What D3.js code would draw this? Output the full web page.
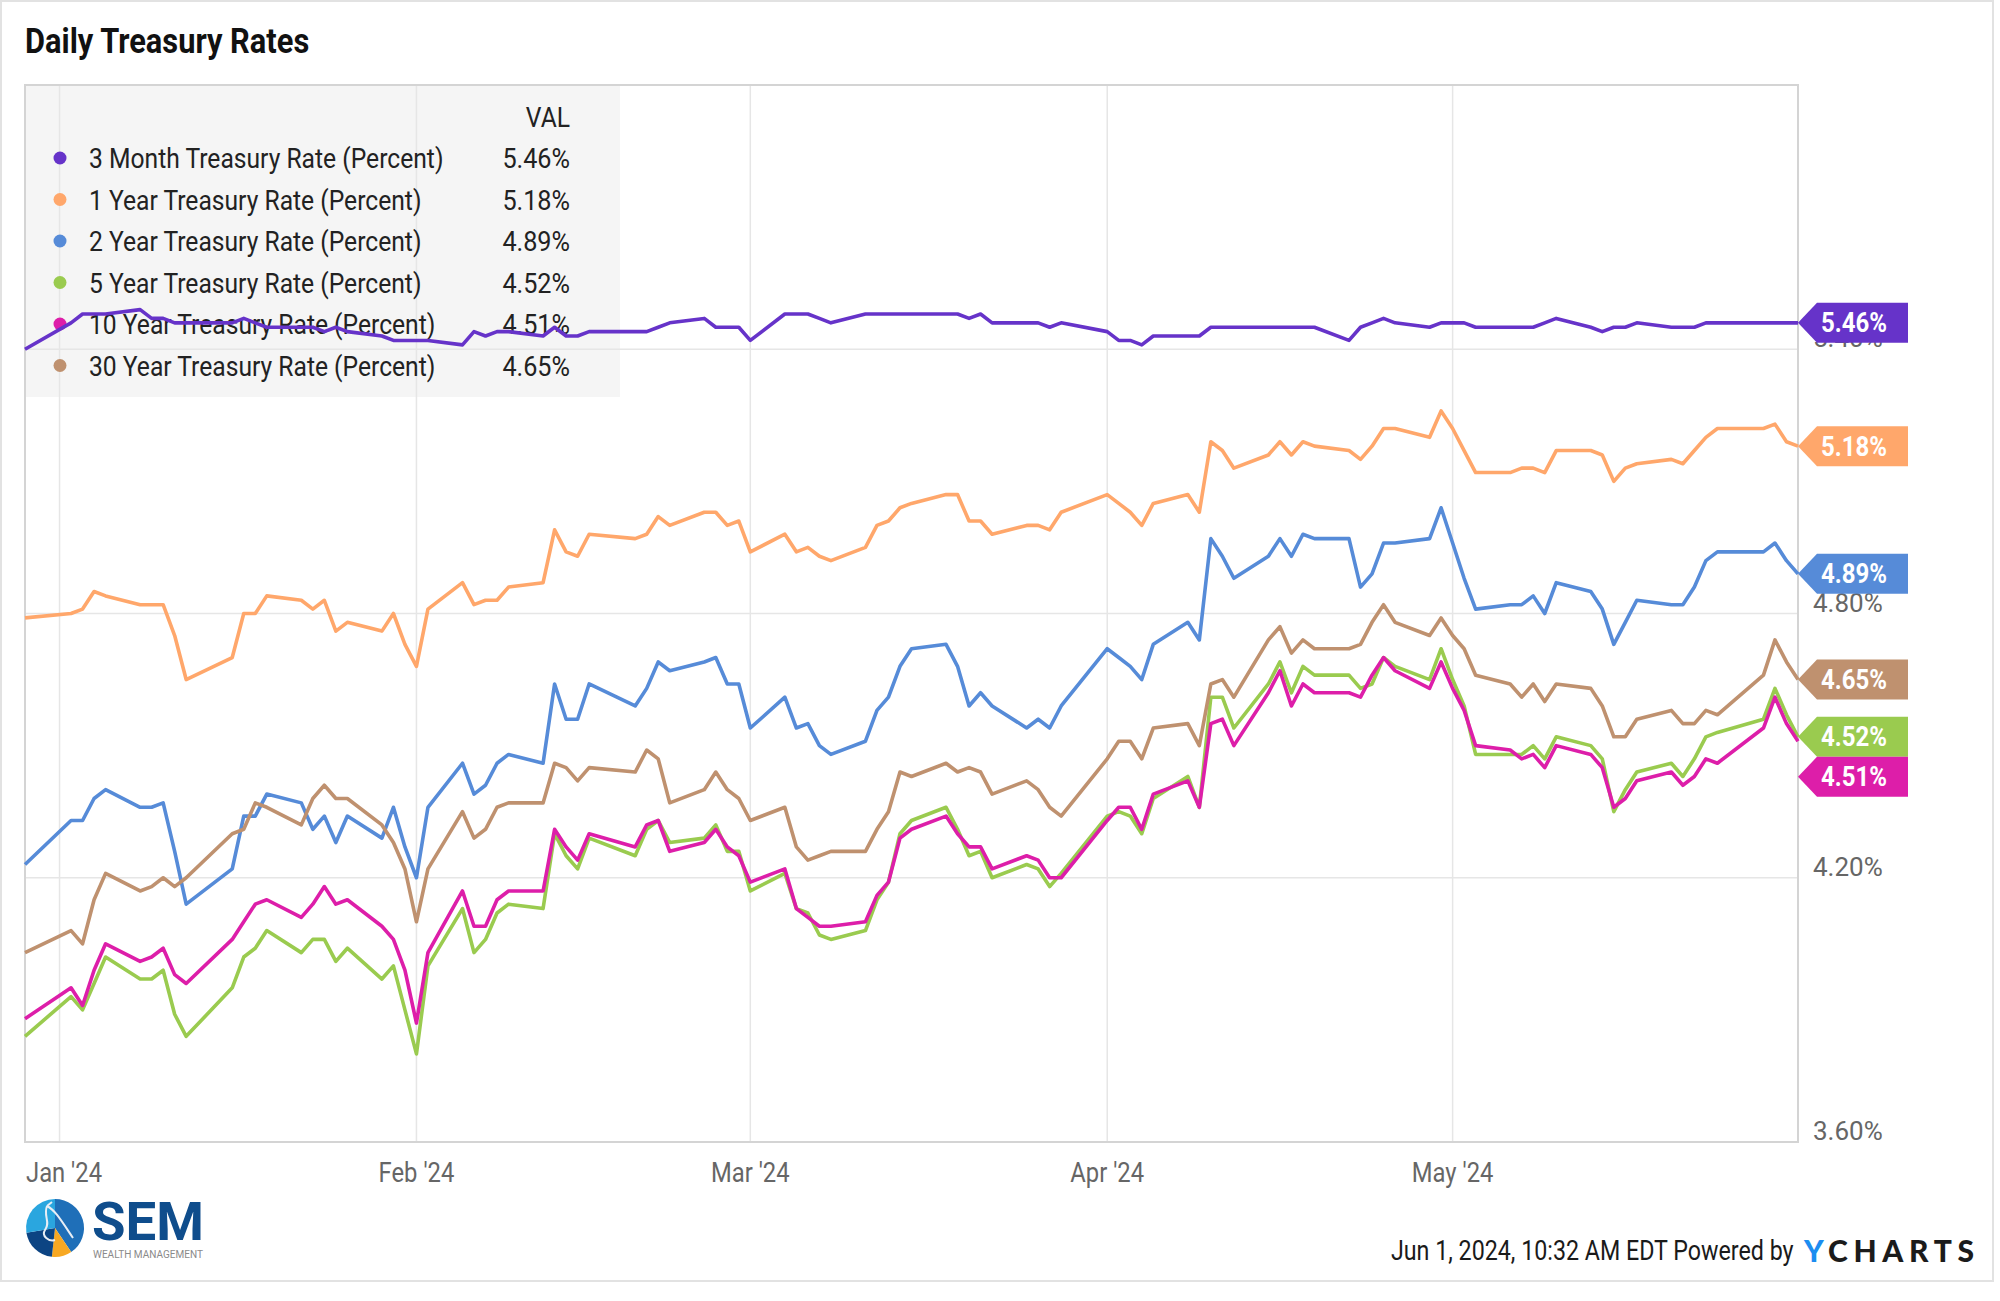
<!DOCTYPE html>
<html>
<head>
<meta charset="utf-8">
<script src="https://cdn.jsdelivr.net/npm/d3@7"></script>
<style>
  body { margin: 0; background: #fff; }
  svg { display: block; font-family: Roboto, "Noto Sans", sans-serif; }
</style>
</head>
<body>
<div id="chart"></div>
<script>
// trading days shown on the chart
const dates = [
  "2023-12-29",
  "2024-01-02","2024-01-03","2024-01-04","2024-01-05","2024-01-08","2024-01-09","2024-01-10","2024-01-11","2024-01-12","2024-01-16","2024-01-17","2024-01-18","2024-01-19","2024-01-22","2024-01-23","2024-01-24","2024-01-25","2024-01-26","2024-01-29","2024-01-30","2024-01-31",
  "2024-02-01","2024-02-02","2024-02-05","2024-02-06","2024-02-07","2024-02-08","2024-02-09","2024-02-12","2024-02-13","2024-02-14","2024-02-15","2024-02-16","2024-02-20","2024-02-21","2024-02-22","2024-02-23","2024-02-26","2024-02-27","2024-02-28","2024-02-29",
  "2024-03-01","2024-03-04","2024-03-05","2024-03-06","2024-03-07","2024-03-08","2024-03-11","2024-03-12","2024-03-13","2024-03-14","2024-03-15","2024-03-18","2024-03-19","2024-03-20","2024-03-21","2024-03-22","2024-03-25","2024-03-26","2024-03-27","2024-03-28",
  "2024-04-01","2024-04-02","2024-04-03","2024-04-04","2024-04-05","2024-04-08","2024-04-09","2024-04-10","2024-04-11","2024-04-12","2024-04-15","2024-04-16","2024-04-17","2024-04-18","2024-04-19","2024-04-22","2024-04-23","2024-04-24","2024-04-25","2024-04-26","2024-04-29","2024-04-30",
  "2024-05-01","2024-05-02","2024-05-03","2024-05-06","2024-05-07","2024-05-08","2024-05-09","2024-05-10","2024-05-13","2024-05-14","2024-05-15","2024-05-16","2024-05-17","2024-05-20","2024-05-21","2024-05-22","2024-05-23","2024-05-24","2024-05-28","2024-05-29","2024-05-30","2024-05-31"
];

const rate3m = [5.40,
  5.46,5.48,5.48,5.48,5.49,5.47,5.47,5.46,5.46,5.46,5.47,5.46,5.45,5.45,5.45,5.44,5.45,5.44,5.43,5.42,5.42,
  5.42,5.42,5.41,5.44,5.43,5.44,5.44,5.43,5.45,5.43,5.43,5.44,5.44,5.44,5.45,5.46,5.47,5.45,5.45,5.45,
  5.42,5.48,5.48,5.48,5.47,5.46,5.48,5.48,5.48,5.48,5.48,5.48,5.48,5.47,5.48,5.46,5.46,5.46,5.45,5.46,
  5.44,5.42,5.42,5.41,5.43,5.43,5.43,5.45,5.45,5.45,5.45,5.45,5.45,5.45,5.45,5.42,5.45,5.46,5.47,5.46,5.45,5.46,
  5.46,5.46,5.45,5.45,5.45,5.45,5.46,5.47,5.45,5.44,5.45,5.45,5.46,5.45,5.45,5.45,5.46,5.46,5.46,5.46,5.46,5.46];

const rate1y = [4.79,
  4.80,4.81,4.85,4.84,4.82,4.82,4.82,4.75,4.65,4.70,4.80,4.80,4.84,4.83,4.81,4.83,4.76,4.78,4.76,4.80,4.73,
  4.68,4.81,4.87,4.82,4.83,4.83,4.86,4.87,4.99,4.94,4.93,4.98,4.97,4.98,5.02,5.00,5.03,5.03,5.00,5.01,
  4.94,4.98,4.94,4.95,4.93,4.92,4.95,5.00,5.01,5.04,5.05,5.07,5.07,5.01,5.01,4.98,5.00,5.00,4.99,5.03,
  5.07,5.05,5.03,5.00,5.05,5.07,5.03,5.19,5.17,5.13,5.16,5.19,5.16,5.19,5.18,5.17,5.15,5.18,5.22,5.22,5.20,5.26,
  5.22,5.17,5.12,5.12,5.13,5.13,5.12,5.17,5.17,5.16,5.10,5.13,5.14,5.15,5.14,5.17,5.20,5.22,5.22,5.23,5.19,5.18];

const rate2y = [4.23,
  4.33,4.33,4.38,4.40,4.36,4.36,4.37,4.26,4.14,4.22,4.34,4.34,4.39,4.37,4.31,4.34,4.28,4.34,4.29,4.36,4.27,
  4.20,4.36,4.46,4.39,4.41,4.46,4.48,4.46,4.64,4.56,4.56,4.64,4.59,4.63,4.69,4.67,4.69,4.70,4.64,4.64,
  4.54,4.61,4.54,4.55,4.50,4.48,4.51,4.58,4.61,4.68,4.72,4.73,4.68,4.59,4.62,4.59,4.54,4.56,4.54,4.59,
  4.72,4.70,4.68,4.65,4.73,4.78,4.74,4.97,4.93,4.88,4.93,4.97,4.93,4.98,4.97,4.97,4.86,4.89,4.96,4.96,4.97,5.04,
  4.96,4.88,4.81,4.82,4.82,4.84,4.80,4.87,4.85,4.81,4.73,4.78,4.83,4.82,4.82,4.86,4.92,4.94,4.94,4.96,4.92,4.89];

const rate5y = [3.84,
  3.93,3.90,3.96,4.02,3.97,3.97,3.99,3.89,3.84,3.95,4.02,4.04,4.08,4.03,4.06,4.06,4.01,4.04,3.97,4.00,3.90,
  3.80,4.00,4.13,4.03,4.06,4.12,4.14,4.13,4.30,4.25,4.22,4.29,4.25,4.31,4.33,4.28,4.29,4.32,4.26,4.26,
  4.17,4.21,4.13,4.12,4.07,4.06,4.08,4.15,4.19,4.30,4.33,4.36,4.31,4.25,4.26,4.20,4.23,4.22,4.18,4.21,
  4.34,4.35,4.34,4.30,4.38,4.43,4.36,4.61,4.61,4.54,4.64,4.69,4.62,4.68,4.66,4.66,4.63,4.64,4.70,4.68,4.65,4.72,
  4.65,4.59,4.48,4.48,4.48,4.50,4.47,4.52,4.50,4.47,4.35,4.40,4.44,4.46,4.43,4.47,4.52,4.53,4.56,4.63,4.57,4.52];

const rate10y = [3.88,
  3.95,3.91,3.99,4.05,4.01,4.02,4.04,3.98,3.96,4.06,4.10,4.14,4.15,4.11,4.14,4.18,4.14,4.15,4.09,4.06,3.99,
  3.87,4.03,4.17,4.09,4.09,4.15,4.17,4.17,4.31,4.27,4.24,4.30,4.27,4.32,4.33,4.26,4.28,4.31,4.27,4.25,
  4.19,4.22,4.13,4.11,4.09,4.09,4.10,4.16,4.19,4.29,4.31,4.34,4.30,4.27,4.27,4.22,4.25,4.24,4.20,4.20,
  4.33,4.36,4.36,4.31,4.39,4.42,4.36,4.55,4.56,4.50,4.62,4.67,4.59,4.64,4.62,4.62,4.61,4.66,4.70,4.67,4.63,4.69,
  4.63,4.58,4.50,4.49,4.47,4.48,4.45,4.50,4.48,4.45,4.36,4.38,4.42,4.44,4.41,4.43,4.47,4.46,4.54,4.61,4.55,4.51];

const rate30y = [4.03,
  4.08,4.05,4.15,4.21,4.17,4.18,4.20,4.18,4.20,4.30,4.31,4.37,4.36,4.32,4.38,4.41,4.38,4.38,4.32,4.28,4.22,
  4.10,4.22,4.35,4.29,4.31,4.36,4.37,4.37,4.46,4.45,4.42,4.45,4.44,4.49,4.47,4.37,4.40,4.44,4.40,4.38,
  4.33,4.36,4.27,4.24,4.25,4.26,4.26,4.31,4.35,4.44,4.43,4.46,4.44,4.45,4.44,4.39,4.42,4.40,4.36,4.34,
  4.47,4.51,4.51,4.47,4.54,4.55,4.50,4.64,4.65,4.61,4.74,4.77,4.71,4.74,4.72,4.72,4.73,4.78,4.82,4.78,4.75,4.79,
  4.75,4.72,4.66,4.64,4.61,4.64,4.60,4.64,4.63,4.59,4.52,4.52,4.56,4.58,4.55,4.55,4.58,4.57,4.66,4.74,4.69,4.65];

const seriesNames = [
  "3 Month Treasury Rate (Percent)",
  "1 Year Treasury Rate (Percent)",
  "2 Year Treasury Rate (Percent)",
  "5 Year Treasury Rate (Percent)",
  "10 Year Treasury Rate (Percent)",
  "30 Year Treasury Rate (Percent)"
];
const seriesValues = [rate3m, rate1y, rate2y, rate5y, rate10y, rate30y];
const seriesColors = ["#6633c9", "#ffa76b", "#568bd8", "#9acb4f", "#dd1ea9", "#bf916f"];

const yTicks = [3.6, 4.2, 4.8, 5.4, 6.0];
const monthTicks = ["2024-01-01", "2024-02-01", "2024-03-01", "2024-04-01", "2024-05-01"];
const monthLabels = ["Jan '24", "Feb '24", "Mar '24", "Apr '24", "May '24"];

const width = 2000, height = 1301;
const plot = { left: 25, right: 1798, top: 85, bottom: 1142 };
const parse = d3.timeParse("%Y-%m-%d");

const svg = d3.select("#chart").append("svg")
  .attr("width", width).attr("height", height);

// squeeze Roboto so it reads like the condensed face of the original
function condense(sel, f) {
  sel.each(function () {
    const w = this.getComputedTextLength();
    d3.select(this).attr("textLength", w * f).attr("lengthAdjust", "spacingAndGlyphs");
  });
}

const x = d3.scaleTime()
  .domain([parse("2023-12-29"), parse("2024-05-31")])
  .range([plot.left, plot.right]);
const y = d3.scaleLinear()
  .domain([3.6, 6.0])
  .range([plot.bottom, plot.top]);

// outer frame
svg.append("rect")
  .attr("x", 1).attr("y", 1).attr("width", 1992).attr("height", 1280)
  .attr("fill", "none").attr("stroke", "#e2e2e2").attr("stroke-width", 2);

// title
svg.append("text")
  .attr("x", 25).attr("y", 53)
  .attr("font-size", 35).attr("font-weight", 700).attr("fill", "#111")
  .text("Daily Treasury Rates")
  .call(condense, 0.88);

// legend background (under the grid)
svg.append("rect")
  .attr("x", plot.left).attr("y", plot.top)
  .attr("width", 595).attr("height", 312)
  .attr("fill", "#f5f5f5");

// grid
svg.append("g").selectAll("line")
  .data(yTicks.slice(1, -1))
  .join("line")
  .attr("x1", plot.left).attr("x2", plot.right)
  .attr("y1", d => y(d)).attr("y2", d => y(d))
  .attr("stroke", "#e6e6e6").attr("stroke-width", 1.5);

svg.append("g").selectAll("line")
  .data(monthTicks)
  .join("line")
  .attr("x1", d => x(parse(d))).attr("x2", d => x(parse(d)))
  .attr("y1", plot.top).attr("y2", plot.bottom)
  .attr("stroke", "#e6e6e6").attr("stroke-width", 1.5);

svg.append("rect")
  .attr("x", plot.left).attr("y", plot.top)
  .attr("width", plot.right - plot.left).attr("height", plot.bottom - plot.top)
  .attr("fill", "none").attr("stroke", "#d4d4d4").attr("stroke-width", 2);

// y labels (5.40% sits partly behind the 3M flag, as in the original)
svg.append("g").selectAll("text")
  .data(yTicks.slice(0, -1))
  .join("text")
  .attr("x", 1813).attr("y", d => y(d) - 2)
  .attr("font-size", 26).attr("fill", "#666")
  .text(d => d.toFixed(2) + "%");

// x labels
svg.append("g").selectAll("text")
  .data(monthTicks)
  .join("text")
  .attr("y", 1182)
  .attr("font-size", 28).attr("fill", "#666")
  .text((d, i) => monthLabels[i])
  .call(condense, 0.85)
  .each(function (d) {
    const w = +this.getAttribute("textLength");
    let x0 = x(parse(d)) - w / 2;
    if (x0 < plot.left + 1) x0 = plot.left + 1;
    d3.select(this).attr("x", x0);
  });

// legend text
const legend = svg.append("g");
legend.append("text")
  .attr("x", 570).attr("y", 127).attr("text-anchor", "end")
  .attr("font-size", 28).attr("fill", "#222")
  .text("VAL").call(condense, 0.88);

const rows = legend.selectAll("g.row")
  .data(seriesNames)
  .join("g")
  .attr("class", "row")
  .attr("transform", (d, i) => `translate(0, ${168 + i * 41.5})`);

rows.append("circle")
  .attr("cx", 60).attr("cy", -10).attr("r", 6.5)
  .attr("fill", (d, i) => seriesColors[i]);

rows.append("text")
  .attr("x", 89).attr("y", 0)
  .attr("font-size", 28).attr("fill", "#222")
  .text(d => d)
  .call(condense, 0.88);

rows.append("text")
  .attr("x", 570).attr("y", 0).attr("text-anchor", "end")
  .attr("font-size", 28).attr("fill", "#222")
  .text((d, i) => seriesValues[i][seriesValues[i].length - 1].toFixed(2) + "%")
  .call(condense, 0.9);

// lines
const line = d3.line()
  .x(d => x(d.date))
  .y(d => y(d.v));

svg.append("g").selectAll("path")
  .data(seriesValues.map((vals, i) => ({ i, pts: vals.map((v, j) => ({ date: parse(dates[j]), v })) })))
  .join("path")
  .attr("d", d => line(d.pts))
  .attr("fill", "none")
  .attr("stroke", d => seriesColors[d.i])
  .attr("stroke-width", 3.6)
  .attr("stroke-linejoin", "round");

// end-value flags on the right
const flagH = 40;
const flags = seriesValues.map((vals, i) => ({ i, v: vals[vals.length - 1], cy: y(vals[vals.length - 1]) }))
  .sort((a, b) => a.cy - b.cy);
for (let k = 1; k < flags.length; k++) {
  if (flags[k].cy < flags[k - 1].cy + flagH) flags[k].cy = flags[k - 1].cy + flagH;
}

const flag = svg.append("g").selectAll("g")
  .data(flags)
  .join("g")
  .attr("transform", d => `translate(${plot.right}, ${d.cy})`);

flag.append("path")
  .attr("d", `M0,0 L19,${-flagH / 2} L110,${-flagH / 2} L110,${flagH / 2} L19,${flagH / 2} Z`)
  .attr("fill", d => seriesColors[d.i]);

flag.append("text")
  .attr("x", 23).attr("y", 9.5)
  .attr("font-size", 27).attr("font-weight", 700).attr("fill", "#fff")
  .text(d => d.v.toFixed(2) + "%")
  .attr("textLength", 66).attr("lengthAdjust", "spacingAndGlyphs");

// footer (scaled instead of textLength so its box stays tight)
svg.append("text")
  .attr("transform", "translate(1391, 1260) scale(0.83, 1)")
  .attr("font-size", 28).attr("fill", "#1a1a1a")
  .text("Jun 1, 2024, 10:32 AM EDT Powered by");

const yc = svg.append("text")
  .attr("x", 1804).attr("y", 1262)
  .attr("font-family", "Lato, Inter, sans-serif")
  .attr("font-size", 30).attr("font-weight", 900)
  .attr("textLength", 170).attr("lengthAdjust", "spacing");
yc.append("tspan").attr("fill", "#1c8df0").text("Y");
yc.append("tspan").attr("fill", "#1b1b1b").text("CHARTS");

// SEM logo
const logo = svg.append("g").attr("transform", "translate(55, 1228)");
const arc = d3.arc().innerRadius(0).outerRadius(29);
const slices = [
  { startAngle: 0, endAngle: 2.55, color: "#1f6fb8" },
  { startAngle: 2.55, endAngle: 3.25, color: "#f7a823" },
  { startAngle: 3.25, endAngle: 4.55, color: "#0c4483" },
  { startAngle: 4.55, endAngle: 2 * Math.PI, color: "#2aa6df" }
];
logo.selectAll("path.slice")
  .data(slices)
  .join("path")
  .attr("class", "slice")
  .attr("d", d => arc(d))
  .attr("fill", d => d.color);
logo.append("path")
  .attr("d", "M-8,-22 C-12,-12 -4,-6 -10,2 C-14,8 -6,14 0,12 M-8,-22 C0,-18 6,-8 18,10 M-3,-26 L-8,-22")
  .attr("fill", "none").attr("stroke", "#e8eef5").attr("stroke-width", 2);

svg.append("text")
  .attr("x", 92).attr("y", 1240)
  .attr("font-size", 54).attr("font-weight", 700).attr("fill", "#0f4d8c")
  .attr("textLength", 112).attr("lengthAdjust", "spacingAndGlyphs")
  .text("SEM");
svg.append("text")
  .attr("x", 93).attr("y", 1258)
  .attr("font-size", 10).attr("fill", "#8a8a8a")
  .attr("textLength", 110).attr("lengthAdjust", "spacingAndGlyphs")
  .text("WEALTH MANAGEMENT");
</script>
</body>
</html>
